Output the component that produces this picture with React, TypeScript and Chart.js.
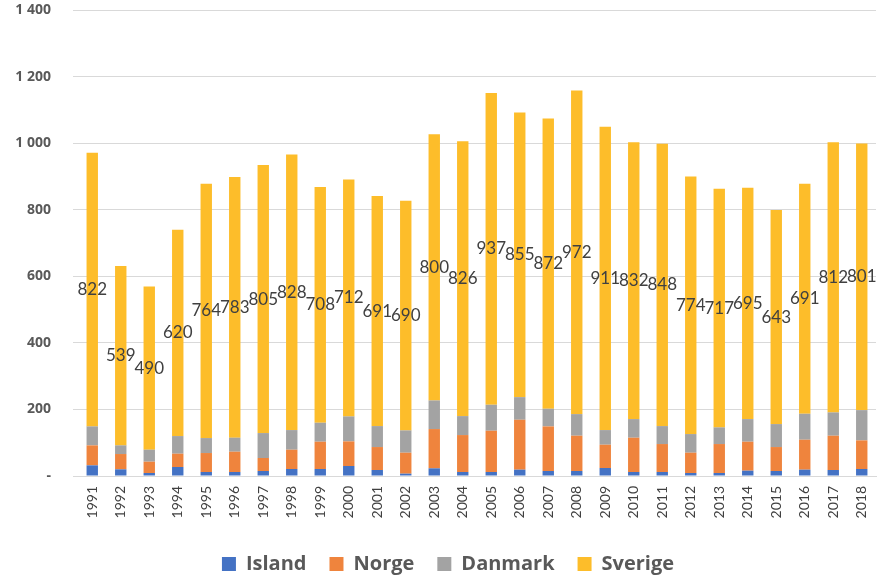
import React, { useEffect, useRef } from "react";
import { Chart, registerables } from "chart.js";

Chart.register(...registerables);

const years = ["1991","1992","1993","1994","1995","1996","1997","1998","1999","2000","2001","2002","2003","2004","2005","2006","2007","2008","2009","2010","2011","2012","2013","2014","2015","2016","2017","2018"];
const island = [32,20,9,27,12,12,15,21,21,30,18,7,23,12,12,19,15,15,24,12,12,9,9,16,15,19,18,21];
const norge = [60,46,34,40,57,61,39,58,82,74,69,63,118,111,124,150,134,106,70,103,84,61,87,87,72,90,103,86];
const danmark = [57,26,36,53,45,42,75,59,57,75,63,67,86,57,78,68,53,65,44,56,54,56,50,68,69,78,70,91];
const sverige = [822,539,490,620,764,783,805,828,708,712,691,690,800,826,937,855,872,972,911,832,848,774,717,695,643,691,812,801];
const yTickLabels = ["-", "200", "400", "600", "800", "1 000", "1 200", "1 400"];

const FONT = "Lato, 'Open Sans', sans-serif";
const BOLD = "'Open Sans', Lato, sans-serif";

const labelPlugin = {
  id: "sverigeLabels",
  afterLayout(chart: any) {
    if (chart.legend) {
      chart.legend.left += 10;
      chart.legend.right += 10;
    }
  },
  afterDatasetsDraw(chart: any) {
    const ctx = chart.ctx;
    const meta = chart.getDatasetMeta(3);
    ctx.save();
    ctx.font = `17px ${FONT}`;
    ctx.fillStyle = "#404040";
    ctx.textAlign = "center";
    ctx.textBaseline = "middle";
    meta.data.forEach((el: any, i: number) => {
      const cy = (el.y + el.base) / 2;
      ctx.fillText(String(sverige[i]), el.x, cy);
    });
    ctx.restore();
  },
};

export default function App() {
  const ref = useRef<HTMLCanvasElement>(null);
  useEffect(() => {
    document.body.style.margin = "0";
    const chart = new Chart(ref.current!, {
      type: "bar",
      data: {
        labels: years,
        datasets: [
          { label: "Island", data: island, backgroundColor: "#4472C4" },
          { label: "Norge", data: norge, backgroundColor: "#EF843D" },
          { label: "Danmark", data: danmark, backgroundColor: "#A3A3A3" },
          { label: "Sverige", data: sverige, backgroundColor: "#FDBD2A" },
        ],
      },
      options: {
        responsive: false,
        animation: false,
        layout: { padding: { top: 10, right: 8, left: 0, bottom: -5 } },
        datasets: { bar: { categoryPercentage: 1, barPercentage: 0.4 } },
        scales: {
          x: {
            stacked: true,
            afterFit: (s: any) => { s.height = 55; s.paddingLeft = 0; s.paddingRight = 0; },
            grid: { display: false, drawTicks: false },
            border: { display: true, color: "#d9d9d9" },
            ticks: {
              minRotation: 90,
              maxRotation: 90,
              padding: 10,
              color: "#404040",
              font: { size: 14, family: FONT },
              autoSkip: false,
            },
          },
          y: {
            stacked: true,
            min: 0,
            max: 1400,
            afterFit: (s: any) => { s.width = 78; s.paddingTop = 0; s.paddingBottom = 0; },
            grid: { color: "#d9d9d9", tickLength: 5 },
            border: { display: false },
            ticks: {
              stepSize: 200,
              padding: 22,
              color: "#595959",
              font: { size: 14, weight: "bold", family: BOLD },
              callback: (_v: any, i: number) => yTickLabels[i],
            },
          },
        },
        plugins: {
          tooltip: { enabled: false },
          legend: {
            position: "bottom",
            labels: {
              boxWidth: 14,
              boxHeight: 14,
              padding: 23,
              color: "#595959",
              font: { size: 20, weight: "bold", family: BOLD },
            },
          },
        },
      },
      plugins: [labelPlugin],
    });
    return () => chart.destroy();
  }, []);
  return <canvas ref={ref} width={884} height={579} />;
}
